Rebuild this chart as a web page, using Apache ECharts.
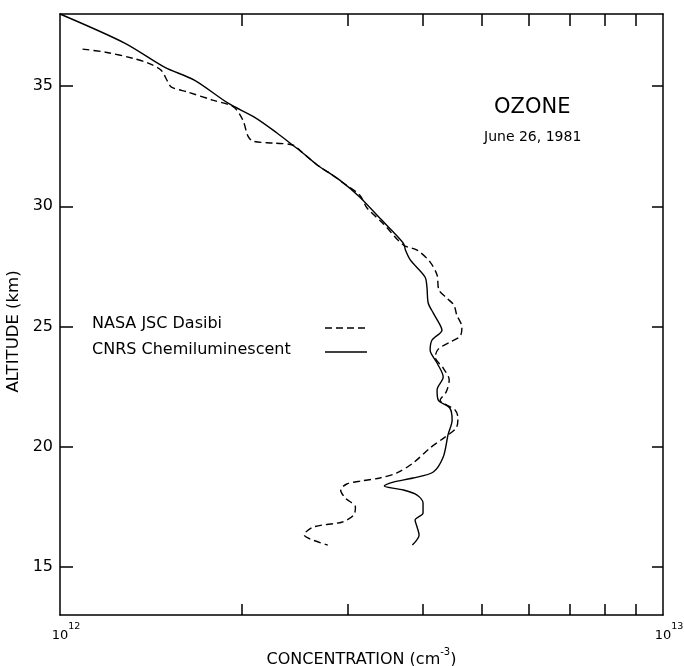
<!DOCTYPE html>
<html><head><meta charset="utf-8">
<script src="https://cdn.jsdelivr.net/npm/echarts@6/dist/echarts.min.js"></script>
<style>html,body{margin:0;padding:0;background:#fff}#c{width:684px;height:666px}</style>
</head><body><div id="c"></div>
<script>
// CNRS Chemiluminescent (solid) — concentration (cm^-3) and altitude (km)
const cnrsConc = [1.00e12,1.28e12,1.49e12,1.67e12,1.90e12,2.10e12,2.29e12,2.43e12,2.53e12,2.67e12,2.91e12,3.14e12,3.39e12,3.71e12,3.74e12,3.81e12,4.03e12,4.06e12,4.08e12,4.16e12,4.27e12,4.30e12,4.14e12,4.11e12,4.22e12,4.32e12,4.22e12,4.24e12,4.43e12,4.47e12,4.40e12,4.32e12,4.16e12,3.85e12,3.57e12,3.45e12,3.71e12,3.91e12,4.00e12,4.00e12,3.88e12,3.91e12,3.94e12,3.84e12];
const cnrsAlt  = [38.0,36.79,35.79,35.25,34.29,33.71,33.05,32.55,32.21,31.72,31.09,30.39,29.51,28.47,28.18,27.77,27.06,26.64,25.98,25.56,25.06,24.85,24.44,24.02,23.48,22.90,22.36,21.94,21.61,21.11,20.49,19.57,18.95,18.70,18.53,18.37,18.20,17.99,17.66,17.24,16.95,16.66,16.33,15.91];
// NASA JSC Dasibi (dashed)
const nasaConc = [1.09e12,1.19e12,1.32e12,1.40e12,1.47e12,1.51e12,1.53e12,1.63e12,1.79e12,1.94e12,2.01e12,2.05e12,2.09e12,2.26e12,2.43e12,2.53e12,2.67e12,2.80e12,2.95e12,3.14e12,3.23e12,3.43e12,3.71e12,3.91e12,4.11e12,4.22e12,4.25e12,4.38e12,4.50e12,4.55e12,4.64e12,4.61e12,4.43e12,4.24e12,4.19e12,4.32e12,4.42e12,4.37e12,4.27e12,4.52e12,4.57e12,4.54e12,4.35e12,4.11e12,3.85e12,3.62e12,3.39e12,3.17e12,2.99e12,2.92e12,2.97e12,3.09e12,3.07e12,2.94e12,2.63e12,2.54e12,2.60e12,2.78e12];
const nasaAlt  = [36.54,36.41,36.16,35.96,35.67,35.17,34.96,34.75,34.42,34.13,33.59,32.92,32.71,32.63,32.55,32.21,31.72,31.38,30.97,30.47,29.93,29.30,28.39,28.18,27.68,27.14,26.52,26.18,25.89,25.48,24.98,24.60,24.35,24.06,23.73,23.27,22.78,22.28,21.94,21.53,21.20,20.78,20.40,19.95,19.32,18.91,18.70,18.58,18.45,18.20,17.87,17.49,17.16,16.87,16.66,16.33,16.16,15.91];
const yTicks = [15, 20, 25, 30, 35];
const xMinorMultipliers = [2, 3, 4, 5, 6, 7, 8, 9];
const seriesNames = ['NASA JSC Dasibi', 'CNRS Chemiluminescent'];

const FONT = 'DejaVu Sans';
const BLACK = '#000';
const minorPos = xMinorMultipliers.map(m => 12 + Math.log10(m));
const axisLineStyle = {color: BLACK, width: 1.5};

const chart = echarts.init(document.getElementById('c'), null, {renderer: 'canvas'});
const option = {
  animation: false,
  backgroundColor: '#fff',
  textStyle: {fontFamily: FONT, color: BLACK},
  grid: {left: 60, right: 21, top: 14, bottom: 51, containLabel: false, outerBoundsMode: 'none'},
  title: [
    {text: 'OZONE', left: 494, top: 97, padding: 0,
     textStyle: {fontFamily: FONT, fontSize: 21, fontWeight: 'normal', color: BLACK}},
    {text: 'June 26, 1981', left: 484, top: 130, padding: 0,
     textStyle: {fontFamily: FONT, fontSize: 14, fontWeight: 'normal', color: BLACK}}
  ],
  xAxis: [
    {type: 'log', logBase: 10, min: 1e12, max: 1e13, position: 'bottom',
     name: '{t|CONCENTRATION (cm}{s|-3}{t|)}', nameLocation: 'middle', nameGap: 31,
     nameTextStyle: {rich: {
       t: {fontFamily: FONT, fontSize: 16, lineHeight: 24, color: BLACK},
       s: {fontFamily: FONT, fontSize: 10, lineHeight: 10, verticalAlign: 'top', color: BLACK}}},
     axisLine: {show: true, onZero: false, lineStyle: axisLineStyle},
     axisTick: {show: false}, splitLine: {show: false},
     axisLabel: {show: true, showMinLabel: true, showMaxLabel: true, margin: 7, padding: [0, 0, 0, 12],
       formatter: v => '{b|10}{s|' + Math.round(Math.log10(v)) + '}',
       rich: {
         b: {fontFamily: FONT, fontSize: 13, lineHeight: 28, color: BLACK},
         s: {fontFamily: FONT, fontSize: 9.5, lineHeight: 10, verticalAlign: 'top', color: BLACK}}}
    },
    {type: 'value', min: 12, max: 13, position: 'bottom',
     axisLine: {show: false, onZero: false},
     axisTick: {show: true, inside: true, length: 11, customValues: minorPos, lineStyle: axisLineStyle},
     axisLabel: {show: false}, splitLine: {show: false}},
    {type: 'value', min: 12, max: 13, position: 'top',
     axisLine: {show: true, onZero: false, lineStyle: axisLineStyle},
     axisTick: {show: true, inside: true, length: 12, customValues: minorPos, lineStyle: axisLineStyle},
     axisLabel: {show: false}, splitLine: {show: false}}
  ],
  yAxis: [
    {type: 'value', min: 13, max: 38, position: 'left',
     name: 'ALTITUDE (km)', nameLocation: 'middle', nameGap: 29,
     nameTextStyle: {fontFamily: FONT, fontSize: 16.5, color: BLACK, padding: [0, 34, 0, 0]},
     axisLine: {show: true, onZero: false, lineStyle: axisLineStyle},
     axisTick: {show: true, inside: true, length: 13, customValues: yTicks, lineStyle: axisLineStyle},
     axisLabel: {customValues: yTicks, fontFamily: FONT, fontSize: 16, color: BLACK, margin: 7},
     splitLine: {show: false}},
    {type: 'value', min: 13, max: 38, position: 'right',
     axisLine: {show: true, onZero: false, lineStyle: axisLineStyle},
     axisTick: {show: true, inside: true, length: 11, customValues: yTicks, lineStyle: axisLineStyle},
     axisLabel: {show: false}, splitLine: {show: false}}
  ],
  graphic: [
    {type: 'text', left: 92, top: 316, style: {text: seriesNames[0], font: '16px "DejaVu Sans"', fill: BLACK}},
    {type: 'line', shape: {x1: 325, y1: 328, x2: 369, y2: 328}, style: {stroke: BLACK, lineWidth: 1.4, lineDash: [7, 4]}},
    {type: 'text', left: 92, top: 342, style: {text: seriesNames[1], font: '16px "DejaVu Sans"', fill: BLACK}},
    {type: 'line', shape: {x1: 325, y1: 352, x2: 367, y2: 352}, style: {stroke: BLACK, lineWidth: 1.4}}
  ],
  series: [
    {type: 'line', name: seriesNames[0], xAxisIndex: 0, yAxisIndex: 0,
     data: nasaConc.map((c, i) => [c, nasaAlt[i]]),
     symbol: 'none', showSymbol: false, smooth: 0.3,
     lineStyle: {color: BLACK, width: 1.4, type: [7, 4]}},
    {type: 'line', name: seriesNames[1], xAxisIndex: 0, yAxisIndex: 0,
     data: cnrsConc.map((c, i) => [c, cnrsAlt[i]]),
     symbol: 'none', showSymbol: false, smooth: 0.3,
     lineStyle: {color: BLACK, width: 1.4}}
  ]
};
chart.setOption(option);
</script>
</body></html>
